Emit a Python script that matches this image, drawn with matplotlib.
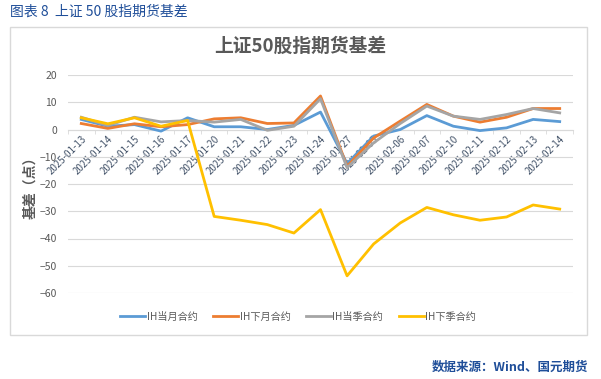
import matplotlib
matplotlib.use("Agg")
import matplotlib.pyplot as plt
from matplotlib.patches import Rectangle
import numpy as np

plt.rcParams['font.family'] = ['Noto Sans CJK SC', 'DejaVu Sans']

dates = ['2025-01-13', '2025-01-14', '2025-01-15', '2025-01-16', '2025-01-17',
         '2025-01-20', '2025-01-21', '2025-01-22', '2025-01-23', '2025-01-24',
         '2025-01-27', '2025-02-05', '2025-02-06', '2025-02-07', '2025-02-10',
         '2025-02-11', '2025-02-12', '2025-02-13', '2025-02-14']

ih_cur_month = [3.7, 1.2, 1.8, -0.6, 4.3, 1.0, 1.0, 0.0, 1.5, 6.4,
                -12.5, -2.4, 0.0, 5.1, 1.2, -0.4, 0.6, 3.7, 2.9]
ih_next_month = [2.2, 0.4, 2.1, 1.0, 1.8, 3.9, 4.3, 2.2, 2.4, 12.3,
                 -13.5, -3.1, 3.1, 9.2, 4.9, 2.7, 4.5, 7.7, 7.7]
ih_cur_quarter = [4.5, 1.5, 4.5, 2.8, 3.3, 2.7, 3.7, -0.3, 1.2, 11.3,
                  -14.0, -4.9, 2.2, 8.6, 4.9, 3.7, 5.5, 7.7, 6.1]
ih_next_quarter = [4.3, 2.1, 4.3, 1.2, 3.3, -31.9, -33.3, -34.9, -38.0, -29.4,
                   -53.7, -42.0, -34.3, -28.6, -31.3, -33.3, -32.1, -27.7, -29.2]

series = [
    ('IH当月合约', ih_cur_month, '#5B9BD5'),
    ('IH下月合约', ih_next_month, '#ED7D31'),
    ('IH当季合约', ih_cur_quarter, '#A5A5A5'),
    ('IH下季合约', ih_next_quarter, '#FFC000'),
]

W, H = 601, 379
fig = plt.figure(figsize=(W / 100, H / 100), dpi=100)

# outer text and chart frame
fig.text(10 / W, 1 - 12 / H, '图表 8  上证 50 股指期货基差', fontsize=10,
         color='#1F4E99', ha='left', va='center')
fig.add_artist(Rectangle((10 / W, 1 - 335 / H), 577 / W, 308 / H,
                         transform=fig.transFigure, fill=False,
                         edgecolor='#D9D9D9', linewidth=1))
fig.text(300 / W, 1 - 46 / H, '上证50股指期货基差', fontsize=13.5, fontweight='bold',
         color='#595959', ha='center', va='center')
fig.text(588 / W, 1 - 367 / H, '数据来源：Wind、国元期货', fontsize=9, fontweight='bold',
         color='#1F4E99', ha='right', va='center')

ax = fig.add_axes([68 / W, 1 - 293 / H, 505 / W, 218 / H])
x = np.arange(len(dates))
for name, vals, color in series:
    ax.plot(x, vals, color=color, linewidth=2.0, label=name, solid_joinstyle='round')

ax.set_xlim(-0.5, len(dates) - 0.5)
ax.set_ylim(-60, 20)
ax.set_yticks(np.arange(-60, 21, 10))
ax.grid(axis='y', color='#D9D9D9', linewidth=0.8)
ax.set_axisbelow(True)
for s in ['top', 'right', 'left']:
    ax.spines[s].set_visible(False)
ax.spines['bottom'].set_position(('data', 0))
ax.spines['bottom'].set_color('#D9D9D9')
ax.spines['bottom'].set_zorder(1)

ax.set_xticks(x)
ax.set_xticklabels(dates, rotation=45, ha='right', rotation_mode='anchor')
ax.set_xticks(np.arange(-0.5, len(dates), 1), minor=True)
ax.tick_params(axis='x', which='major', length=0, labelsize=7, colors='#44546A', pad=3)
ax.tick_params(axis='x', which='minor', length=3, color='#D9D9D9', direction='out')
ax.tick_params(axis='y', length=0, labelsize=7.5, labelcolor='#595959', pad=8)
ax.set_ylabel('基差（点）', fontsize=10, fontweight='bold', color='#595959', labelpad=2)

handles, labels = ax.get_legend_handles_labels()
fig.legend(handles, labels, loc='center', bbox_to_anchor=(298 / W, 1 - 317 / H),
           ncol=4, frameon=False, fontsize=7.3, handlelength=2.5, handletextpad=0.15,
           columnspacing=1.5, labelcolor='#595959')

fig.savefig('out.png', dpi=100)
